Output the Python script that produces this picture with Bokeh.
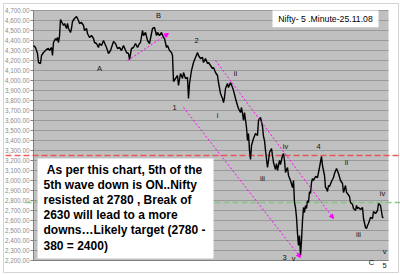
from bokeh.plotting import figure
from bokeh.models import Range1d, Arrow, NormalHead, ColumnDataSource
from bokeh.core.properties import value
from bokeh.embed import file_html
from bokeh.resources import INLINE

# ---------------- data ----------------
# 5-minute bar index and Nifty close
bar = [0, 2, 4, 5, 7, 8, 10, 13, 15, 16, 18, 19, 20, 22, 23, 24, 25, 26, 27, 28,
       29, 30, 31, 33, 34, 35, 37, 38, 39, 41, 43, 45, 46, 48, 50, 51, 53, 54, 56, 58,
       60, 61, 63, 65, 66, 68, 70, 73, 75, 77, 80, 82, 84, 86, 88, 90, 93, 95, 96, 98,
       100, 102, 104, 106, 107, 109, 110, 112, 114, 116, 119, 121, 123, 124, 126, 128, 130, 131, 133, 134,
       136, 138, 139, 140, 142, 144, 145, 147, 149, 150, 152, 154, 155, 156, 158, 160, 162, 164, 165, 167,
       169, 170, 172, 174, 175, 177, 179, 180, 182, 184, 185, 187, 189, 190, 191, 192, 194, 195, 197, 199,
       200, 202, 204, 205, 207, 208, 209, 210, 211, 213, 214, 215, 216, 217, 218, 220, 222, 224, 225, 227,
       229, 230, 231, 232, 234, 235, 236, 238, 239, 240, 242, 243, 244, 246, 247, 249, 250, 251, 252, 254,
       255, 257, 259, 260, 261, 262, 263, 264, 265, 266, 267, 268, 269, 270, 271, 272, 273, 274, 275, 276,
       277, 278, 279, 280, 282, 284, 285, 286, 288, 289, 290, 291, 292, 293, 294, 295, 296, 298, 300, 301,
       303, 305, 307, 309, 310, 312, 313, 314, 316, 317, 319, 320, 322, 323, 324, 325, 327, 329, 330, 332,
       333, 334, 335, 337, 339, 340, 342, 344, 345, 347, 349, 350]
close = [4350, 4330, 4270, 4180, 4170, 4250, 4280, 4310, 4320, 4300, 4330, 4250, 4380, 4420, 4400, 4430, 4380, 4440, 4610, 4590,
         4570, 4550, 4570, 4520, 4570, 4520, 4480, 4520, 4590, 4620, 4640, 4600, 4570, 4580, 4550, 4500, 4520, 4470, 4430, 4450,
         4420, 4380, 4370, 4330, 4370, 4350, 4400, 4330, 4270, 4300, 4390, 4370, 4320, 4330, 4300, 4350, 4280, 4270, 4210, 4320,
         4330, 4370, 4330, 4370, 4380, 4500, 4450, 4480, 4400, 4370, 4520, 4530, 4450, 4480, 4450, 4480, 4430, 4420, 4330, 4350,
         4300, 4280, 4250, 3990, 4020, 4050, 3950, 4070, 4020, 4080, 4020, 4030, 3820, 3970, 4100, 4180, 4230, 4280, 4250, 4220,
         4230, 4180, 4220, 4170, 4180, 4150, 4120, 4130, 4080, 4050, 3980, 3870, 3820, 3780, 3830, 3920, 3970, 3930, 3980, 3930,
         3900, 3820, 3750, 3720, 3680, 3730, 3670, 3600, 3680, 3530, 3400, 3470, 3300, 3210, 3350, 3420, 3470, 3450, 3600, 3630,
         3540, 3440, 3400, 3300, 3130, 3200, 3280, 3320, 3250, 3180, 3110, 3170, 3100, 3200, 3160, 3250, 3270, 3200, 3080, 3130,
         3050, 3000, 2930, 3000, 2780, 2730, 2630, 2470, 2350, 2450, 2250, 2400, 2600, 2730, 2680, 2750, 2720, 2800, 2780, 2890,
         2870, 2980, 3020, 3000, 3040, 3030, 3080, 3130, 3240, 3150, 3100, 3050, 2930, 2920, 2890, 2950, 2940, 2990, 3030, 3070,
         3120, 3070, 3000, 2970, 2880, 2950, 2880, 2870, 2840, 2780, 2760, 2720, 2700, 2750, 2720, 2730, 2710, 2730, 2620, 2530,
         2520, 2550, 2570, 2630, 2620, 2690, 2670, 2700, 2770, 2750, 2630, 2630][:len(bar)]

tick_vals = [2200, 2300, 2400, 2500, 2600, 2700, 2800, 2900, 3000, 3100, 3200, 3300, 3400,
             3500, 3600, 3700, 3800, 3900, 4000, 4100, 4200, 4300, 4400, 4500, 4600, 4700]
tick_labels = [f"{v:,.2f}" for v in tick_vals]

resistance = 3250
support = 2780

# trend lines (bar, value) start -> end
arrow_x0 = [94, 182, 150]
arrow_y0 = [4200, 4200, 3730]
arrow_x1 = [135, 300, 267]
arrow_y1 = [4470, 2620, 2230]

# Elliott wave labels
wave_text = ["A", "B", "2", "ii", "1", "i", "iii", "iv", "4", "ii", "iv", "iii", "3", "v", "v", "C", "5"]
wave_x = [66, 125, 163, 202, 141, 184, 229, 252, 285, 313, 349, 325, 251, 260, 351, 338, 351]
wave_y = [4120, 4650, 4400, 4070, 3730, 3650, 3020, 3340, 3340, 3180, 2870, 2460, 2230, 2220, 2290, 2180, 2150]

title = "Nifty- 5 .Minute-25.11.08"
note_lines = ["As per this chart, 5th of the",
              "5th wave down is ON..Nifty",
              "resisted at 2780 , Break of",
              "2630 will lead to a more",
              "downs\u2026Likely target (2780 -",
              "380 = 2400)"]

# ---------------- figure ----------------
x_lo, x_hi = 0, 355
y_lo, y_hi = 2200, 4700

p = figure(width=400, height=275, x_range=Range1d(-33, 367), y_range=Range1d(2050, 4800),
           x_axis_type=None, y_axis_type=None, toolbar_location=None,
           output_backend="svg", min_border=0, outline_line_color=None,
           background_fill_color="white", border_fill_color="white")
p.xgrid.visible = False
p.ygrid.visible = False

# outer frame
p.quad(left=[-30], right=[365], bottom=[2080], top=[4770], fill_color=None,
       line_color="#d4d4d4", line_width=1)

# plot area
p.quad(left=[x_lo], right=[x_hi], bottom=[y_lo], top=[y_hi], fill_color="#c0c0c0", line_color=None)

# gridlines
p.segment(x0=[x_lo] * len(tick_vals), x1=[x_hi] * len(tick_vals), y0=tick_vals, y1=tick_vals,
          line_color="#999999", line_width=1)
# axis lines and ticks
p.segment(x0=[x_lo, x_lo], x1=[x_lo, x_hi], y0=[y_lo, y_lo], y1=[y_hi, y_lo],
          line_color="#808080", line_width=1)
p.segment(x0=[x_lo - 3] * len(tick_vals), x1=[x_lo] * len(tick_vals), y0=tick_vals, y1=tick_vals,
          line_color="#808080", line_width=1)
p.text(x=[x_lo - 4] * len(tick_vals), y=tick_vals, text=tick_labels,
       text_font=value("Liberation Sans"), text_font_size="6.3px", text_color="#8c8c8c",
       text_align="right", text_baseline="middle")

# resistance / support dashed lines
p.segment(x0=[-28], x1=[367], y0=[resistance], y1=[resistance], line_color="#e84c4c",
          line_width=1.5, line_dash="6 3", line_alpha=0.9)
p.segment(x0=[-8], x1=[367], y0=[support], y1=[support], line_color="#7fc47f",
          line_width=1.5, line_dash="6 3", line_alpha=0.9)

# trend arrows
asrc = ColumnDataSource(dict(x0=arrow_x0, y0=arrow_y0, x1=arrow_x1, y1=arrow_y1))
p.add_layout(Arrow(x_start="x0", y_start="y0", x_end="x1", y_end="y1", source=asrc,
                   line_color="#ff00ff", line_width=1, line_dash="2 2",
                   end=NormalHead(size=4, fill_color="#ff00ff", line_color="#ff00ff")))

# price
p.line(bar, close, line_color="black", line_width=1.4)

# wave labels
p.text(x=wave_x, y=wave_y, text=wave_text, text_font=value("Liberation Sans"),
       text_font_size="7.5px", text_color="#111111", text_align="center", text_baseline="middle")

# note box
p.quad(left=[4], right=[180], bottom=[2220], top=[3220], fill_color="white", line_color=None)
ny = [3220 - 110 - i * 152 for i in range(len(note_lines))]
nx = [13.3] + [10] * (len(note_lines) - 1)
p.text(x=nx, y=ny, text=note_lines, text_font=value("Liberation Sans"), text_font_size="12px",
       text_font_style="bold", text_color="black", text_align="left", text_baseline="middle")

# title box
p.quad(left=[239], right=[345], bottom=[4533], top=[4700], fill_color="white", line_color=None)
p.text(x=[292], y=[4615], text=[title], text_font=value("Liberation Sans"), text_font_size="8.7px",
       text_color="black", text_align="center", text_baseline="middle")

open("out.html", "w").write(file_html(p, INLINE))
